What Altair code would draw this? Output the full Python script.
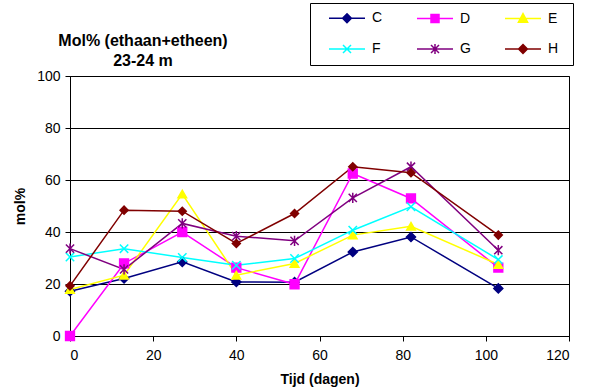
import altair as alt
import pandas as pd

# ---- data ----
days = [0, 13, 27, 40, 54, 68, 82, 103]
series_names = ["C", "D", "E", "F", "G", "H"]
C = [17.2, 22.1, 28.5, 20.8, 20.7, 32.3, 38.1, 18.3]
D = [0.0, 27.9, 40.0, 26.3, 19.9, 62.5, 52.9, 26.3]
E = [17.9, 23.4, 54.6, 23.4, 27.9, 38.8, 42.2, 27.5]
F = [30.4, 33.6, 30.2, 27.2, 29.8, 40.7, 49.7, 29.4]
G = [33.6, 25.6, 43.3, 38.4, 36.6, 53.1, 65.1, 33.0]
H = [19.3, 48.4, 48.0, 35.6, 47.1, 65.1, 62.8, 38.8]
title_lines = ["Mol% (ethaan+etheen)", "23-24 m"]
x_title = "Tijd (dagen)"
y_title = "mol%"
x_ticks = [0, 20, 40, 60, 80, 100, 120]
y_ticks = [0, 20, 40, 60, 80, 100]

colors = ["#000080", "#FF00FF", "#FFFF00", "#00FFFF", "#800080", "#800000"]

# plot marker shapes
X_PATH = "M-1,-1L1,1M1,-1L-1,1"
AST_PATH = "M-1,-1L1,1M1,-1L-1,1M0,-1.25L0,1.25"
shapes = ["diamond", "square", "triangle-up", X_PATH, AST_PATH, "diamond"]
sizes = [81, 64, 90, 81, 90, 81]

# legend symbols: short line with the marker on it, shifted right of the
# symbol anchor (unit = 4 px at size 64; marker centre at +5.5 units)
LINE = "M1,0L10,0"
legend_shapes = [
    LINE + "M5.5,-1.1L6.6,0L5.5,1.1L4.4,0Z",
    LINE + "M4.5,-1L6.5,-1L6.5,1L4.5,1Z",
    LINE + "M5.5,-1.2L6.65,0.95L4.35,0.95Z",
    LINE + "M4.5,-1L6.5,1M6.5,-1L4.5,1",
    LINE + "M4.5,-1L6.5,1M6.5,-1L4.5,1M5.5,-1.25L5.5,1.25",
    LINE + "M5.5,-1.1L6.6,0L5.5,1.1L4.4,0Z",
]

vals = {"C": C, "D": D, "E": E, "F": F, "G": G, "H": H}
rows = []
for s in series_names:
    for d, v in zip(days, vals[s]):
        rows.append({"series": s, "day": d, "val": v})
df = pd.DataFrame(rows)

FONT = "Liberation Sans"

legend = alt.Legend(
    title=" ",
    titleOrient="right",
    titlePadding=7,
    titleFontSize=14,
    orient="none",
    legendX=240,
    legendY=-73,
    columns=3,
    direction="horizontal",
    padding=8,
    strokeColor="black",
    fillColor="white",
    symbolSize=64,
    symbolOpacity=1,
    labelOffset=40,
    columnPadding=23,
    rowPadding=15,
    labelFontSize=14,
    labelFont=FONT,
    labelColor="black",
    symbolStrokeWidth=1.5,
)

cscale = alt.Scale(domain=series_names, range=colors)

x_enc = alt.X(
    "day:Q",
    scale=alt.Scale(domain=[0, 120], nice=False),
    axis=alt.Axis(
        values=x_ticks,
        title=x_title,
        grid=False,
        tickSize=5,
        labelPadding=7,
        titleY=43,
        titleBaseline="middle",
    ),
)
y_enc = alt.Y(
    "val:Q",
    scale=alt.Scale(domain=[0, 100], nice=False),
    axis=alt.Axis(
        values=y_ticks,
        title=y_title,
        grid=True,
        tickSize=5,
        labelPadding=5,
        titleX=-50,
        titleY=130,
        titleAngle=-90,
        titleAlign="center",
        titleBaseline="middle",
    ),
)

base = alt.Chart(df)

lines = base.mark_line(strokeWidth=1.5).encode(
    x=x_enc, y=y_enc,
    color=alt.Color("series:N", scale=cscale, legend=None),
    detail="series:N",
)

points = base.mark_point(filled=True, strokeWidth=1.5, opacity=1).encode(
    x=x_enc,
    y=y_enc,
    color=alt.Color("series:N", scale=cscale, legend=None),
    stroke=alt.Stroke("series:N", scale=cscale, legend=None),
    shape=alt.Shape("series:N", scale=alt.Scale(domain=series_names, range=shapes), legend=None),
    size=alt.Size("series:N", scale=alt.Scale(domain=series_names, range=sizes), legend=None),
)

# legend-only layer (invisible marks)
legend_df = pd.DataFrame({"series": series_names})
legend_layer = alt.Chart(legend_df).mark_point(
    filled=True, strokeWidth=1.5, opacity=0, size=64
).encode(
    color=alt.Color("series:N", scale=cscale, legend=legend),
    stroke=alt.Stroke("series:N", scale=cscale, legend=legend),
    shape=alt.Shape("series:N", scale=alt.Scale(domain=series_names, range=legend_shapes), legend=legend),
)

title_df = pd.DataFrame({"t": ["\n".join(title_lines)]})
title = alt.Chart(title_df).mark_text(
    font=FONT,
    fontSize=16,
    fontWeight="bold",
    align="center",
    baseline="middle",
    lineBreak="\n",
    lineHeight=20,
    color="black",
).encode(text="t:N", x=alt.value(73), y=alt.value(-35))

chart = (
    alt.layer(lines, points, legend_layer, title)
    .resolve_scale(color="independent", stroke="independent", shape="independent", size="independent")
    .properties(
        width=499,
        height=260,
        autosize=alt.AutoSizeParams(type="none"),
        padding={"left": 70, "top": 76, "right": 20, "bottom": 54},
        background="white",
    )
    .configure_view(stroke="black", strokeWidth=1)
    .configure_axis(
        domainColor="black",
        tickColor="black",
        gridColor="black",
        gridWidth=1,
        domainWidth=1,
        labelColor="black",
        titleColor="black",
        labelFont=FONT,
        titleFont=FONT,
        labelFontSize=14,
        titleFontSize=14,
        titleFontWeight="bold",
    )
)

chart.save("out.html", embed_options={"renderer": "svg", "actions": False})
